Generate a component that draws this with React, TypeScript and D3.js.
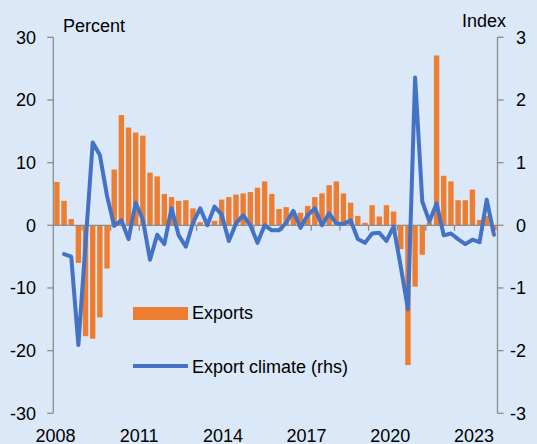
import React from "react";
import * as d3 from "d3";

// ---- data ----
const startYear = 2008;
const quarters: string[] = d3.range(62).map((i) => `${startYear + Math.floor(i / 4)}Q${(i % 4) + 1}`);

const exportsPct: number[] = [
  6.9, 3.9, 1.0, -6.0, -17.7, -18.1, -14.7, -6.9,
  8.9, 17.6, 15.6, 14.8, 14.3, 8.4, 7.8, 5.0,
  4.5, 3.9, 4.0, 2.7, 0.5, 0.2, 0.7, 4.1,
  4.5, 4.9, 5.1, 5.3, 6.0, 7.0, 5.0, 2.6,
  2.9, 2.3, 2.0, 3.1, 4.5, 5.1, 6.4, 7.0,
  5.1, 3.6, 1.5, 0.4, 3.2, 1.4, 3.2, 2.2,
  -3.8, -22.3, -9.8, -4.7, 0.4, 27.1, 7.9, 7.0,
  4.0, 4.0, 5.7, 0.85, 1.5, -0.8,
];

const exportClimate: (number | null)[] = [
  null, -0.46, -0.5, -1.91, -0.29, 1.32, 1.12, 0.47,
  -0.01, 0.08, -0.22, 0.36, 0.09, -0.55, -0.15, -0.3,
  0.27, -0.16, -0.34, 0.04, 0.27, 0.0, 0.3, 0.17,
  -0.25, 0.03, 0.16, 0.0, -0.28, 0.0, -0.08, -0.08,
  0.04, 0.23, -0.04, 0.16, 0.27, 0.0, 0.19, 0.03,
  0.02, 0.08, -0.22, -0.28, -0.13, -0.12, -0.25, -0.02,
  -0.66, -1.34, 2.36, 0.38, 0.06, 0.35, -0.16, -0.13,
  -0.22, -0.3, -0.23, -0.27, 0.41, -0.15,
];

const leftTicks: number[] = [-30, -20, -10, 0, 10, 20, 30];
const rightTicks: number[] = [-3, -2, -1, 0, 1, 2, 3];
const yearLabels: string[] = ["2008", "2011", "2014", "2017", "2020", "2023"];

// ---- layout ----
const W = 537;
const H = 444;
const X0 = 53.3;
const X1 = 497.5;
const YTOP = 37.3;
const YBOT = 413.3;
const BG = "#DBE8F7";
const ORANGE = "#ED7D31";
const BLUE = "#4472C4";
const AXIS = "#8C8C8C";
const FONT = "'Liberation Sans', Arial, sans-serif";

export default function App() {
  const x = d3.scaleBand<string>().domain(quarters).range([X0, X1]).paddingInner(0.25).paddingOuter(0.125);
  const yL = d3.scaleLinear().domain([-30, 30]).range([YBOT, YTOP]);
  const yR = d3.scaleLinear().domain([-3, 3]).range([YBOT, YTOP]);
  const labelX = d3.scaleLinear().domain([2008, 2023]).range([55.5, 474]);
  const bw = x.bandwidth();
  const step = x.step();
  const cx = (i: number) => (x(quarters[i]) as number) + bw / 2;

  const line = d3
    .line<number | null>()
    .defined((d) => d != null)
    .x((_, i) => cx(i))
    .y((d) => yR(d as number));

  const yearTicks = d3.range(4, quarters.length, 4).map((i) => (x(quarters[i]) as number) - (step - bw) / 2);
  const zeroY = yL(0);

  return (
    <svg width={W} height={H} style={{ position: "absolute", left: 0, top: 0, fontFamily: FONT }}>
      <rect x={0} y={0} width={W} height={H} fill={BG} />

      {/* bars */}
      {exportsPct.map((v, i) => (
        <rect
          key={i}
          x={x(quarters[i]) as number}
          y={Math.min(yL(v), zeroY)}
          width={bw}
          height={Math.abs(yL(v) - zeroY)}
          fill={ORANGE}
        />
      ))}

      {/* category axis at zero */}
      <line x1={X0} x2={X1} y1={zeroY} y2={zeroY} stroke={AXIS} strokeWidth={1.3} />
      {yearTicks.map((tx, i) => (
        <line key={i} x1={tx} x2={tx} y1={zeroY} y2={zeroY + 5.5} stroke={AXIS} strokeWidth={1.3} />
      ))}

      {/* left axis */}
      <line x1={X0} x2={X0} y1={YTOP} y2={YBOT} stroke={AXIS} strokeWidth={1.3} />
      {leftTicks.map((t) => (
        <g key={t}>
          <line x1={X0 - 6} x2={X0} y1={yL(t)} y2={yL(t)} stroke={AXIS} strokeWidth={1.3} />
          <text x={36} y={yL(t) + 6.4} textAnchor="end" fontSize={18} fill="#000">
            {t}
          </text>
        </g>
      ))}

      {/* right axis */}
      <line x1={X1} x2={X1} y1={YTOP} y2={YBOT} stroke={AXIS} strokeWidth={1.3} />
      {rightTicks.map((t) => (
        <g key={t}>
          <line x1={X1} x2={X1 + 6} y1={yR(t)} y2={yR(t)} stroke={AXIS} strokeWidth={1.3} />
          <text x={526} y={yR(t) + 6.4} textAnchor="end" fontSize={18} fill="#000">
            {t}
          </text>
        </g>
      ))}

      {/* climate line */}
      <path
        d={line(exportClimate) || ""}
        fill="none"
        stroke={BLUE}
        strokeWidth={4}
        strokeLinejoin="round"
        strokeLinecap="round"
      />

      {/* year labels */}
      {yearLabels.map((yl) => (
        <text key={yl} x={labelX(+yl)} y={441.5} textAnchor="middle" fontSize={18} fill="#000">
          {yl}
        </text>
      ))}

      {/* axis titles */}
      <text x={63} y={31.5} fontSize={18} fill="#000">Percent</text>
      <text x={506} y={27} textAnchor="end" fontSize={18} fill="#000">Index</text>

      {/* legend */}
      <rect x={133} y={307} width={55} height={13} fill={ORANGE} />
      <text x={192} y={319} fontSize={18} fill="#000">Exports</text>
      <line x1={133} x2={188} y1={366} y2={366} stroke={BLUE} strokeWidth={4} />
      <text x={192} y={372.5} fontSize={18} fill="#000">Export climate (rhs)</text>
    </svg>
  );
}
